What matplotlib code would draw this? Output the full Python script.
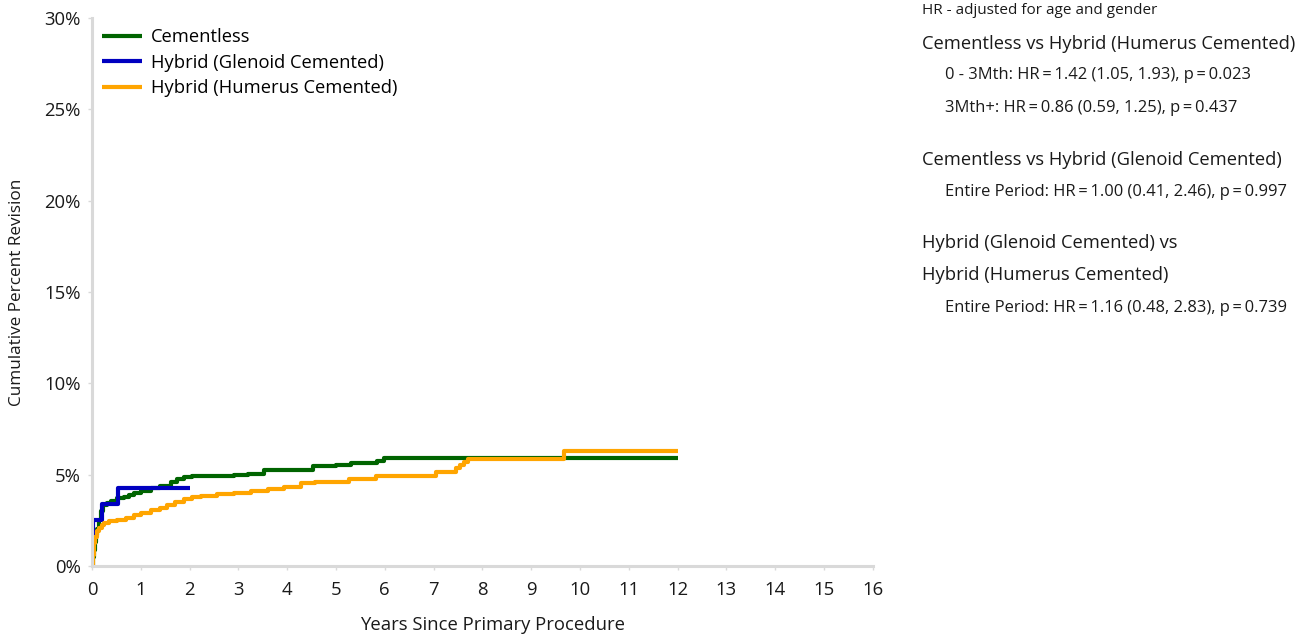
import matplotlib
matplotlib.use("Agg")
import matplotlib.pyplot as plt
from matplotlib.ticker import FuncFormatter

plt.rcParams['font.family'] = ['Open Sans', 'DejaVu Sans']

# Cementless
cl_t = [0, 0.02, 0.04, 0.06, 0.08, 0.11, 0.14, 0.18, 0.22, 0.3, 0.4, 0.52, 0.65, 0.75, 0.86, 1.0, 1.2, 1.4,
        1.61, 1.75, 1.89, 2.05, 2.23, 2.6, 2.91, 3.2, 3.53, 4.0, 4.52, 5.0, 5.3, 5.85, 5.99, 12.0]
cl_v = [0, 0.5, 0.9, 1.3, 1.7, 2.0, 2.5, 3.0, 3.35, 3.45, 3.55, 3.7, 3.8, 3.9, 4.0, 4.1, 4.25, 4.4,
        4.6, 4.75, 4.85, 4.9, 4.93, 4.95, 4.98, 5.05, 5.25, 5.28, 5.5, 5.52, 5.62, 5.75, 5.9, 5.9]

# Hybrid (Glenoid Cemented)
gl_t = [0, 0.01, 0.02, 0.03, 0.21, 0.54, 2.0]
gl_v = [0, 0.6, 1.4, 2.5, 3.4, 4.25, 4.25]

# Hybrid (Humerus Cemented)
hu_t = [0, 0.02, 0.04, 0.07, 0.1, 0.14, 0.2, 0.25, 0.35, 0.52, 0.7, 0.86, 1.0, 1.2, 1.4, 1.54, 1.7, 1.89,
        2.05, 2.23, 2.57, 2.91, 3.25, 3.6, 3.94, 4.28, 4.56, 5.27, 5.82, 7.05, 7.46, 7.55, 7.62, 7.7, 9.68, 12.0]
hu_v = [0, 0.6, 1.26, 1.6, 1.9, 2.08, 2.25, 2.35, 2.45, 2.52, 2.65, 2.79, 2.9, 3.06, 3.2, 3.34, 3.5, 3.65,
        3.75, 3.83, 3.92, 3.98, 4.1, 4.2, 4.34, 4.52, 4.6, 4.74, 4.93, 5.13, 5.35, 5.55, 5.7, 5.84, 6.32, 6.32]

series = [("Cementless", cl_t, cl_v, "#006400"),
          ("Hybrid (Glenoid Cemented)", gl_t, gl_v, "#0000c0"),
          ("Hybrid (Humerus Cemented)", hu_t, hu_v, "#ffa500")]

x_ticks = list(range(0, 17))
y_ticks = [0, 5, 10, 15, 20, 25, 30]

fig = plt.figure(figsize=(13.08, 6.35), dpi=100)
ax = fig.add_axes([0.0703, 0.1087, 0.597, 0.863])
for name, t, v, c in series:
    ax.plot(t, v, drawstyle='steps-post', color=c, lw=3, label=name, solid_capstyle='butt')

ax.set_xlim(0, 16)
ax.set_ylim(0, 30)
ax.set_xticks(x_ticks)
ax.set_yticks(y_ticks)
ax.yaxis.set_major_formatter(FuncFormatter(lambda v, p: f"{int(v)}%"))
for s in ['top', 'right']:
    ax.spines[s].set_visible(False)
for s in ['left', 'bottom']:
    ax.spines[s].set_color('#d9d9d9')
    ax.spines[s].set_linewidth(2.2)
ax.tick_params(axis='both', colors='#d9d9d9', labelcolor='#1a1a1a', labelsize=13.3, length=3, width=1)
ax.tick_params(axis='x', pad=8)
ax.tick_params(axis='y', pad=5)
ax.set_xlabel("Years Since Primary Procedure", fontsize=13.3, color='#1a1a1a', labelpad=12)
ax.xaxis.label.set_x(0.513)
ax.set_ylabel("Cumulative Percent Revision", fontsize=12.3, color='#1a1a1a', labelpad=14)

ax.legend(loc='upper left', bbox_to_anchor=(-0.0064, 1.008), frameon=False, fontsize=13.2,
          handlelength=2.2, handletextpad=0.5, labelspacing=0.4, borderaxespad=0.4)

fx = 922 / 1308
fig.text(fx, 1 - 11 / 635, "HR - adjusted for age and gender", fontsize=11, va='center', color='#1a1a1a')
fig.text(fx, 1 - 44 / 635, "Cementless vs Hybrid (Humerus Cemented)", fontsize=13.2, va='center', color='#1a1a1a')
sx = 945 / 1308
sub = dict(fontsize=11.9, va='center', color='#1a1a1a')
fig.text(sx, 1 - 75 / 635, "0 - 3Mth: HR\u2009=\u20091.42 (1.05, 1.93), p\u2009=\u20090.023", **sub)
fig.text(sx, 1 - 108 / 635, "3Mth+: HR\u2009=\u20090.86 (0.59, 1.25), p\u2009=\u20090.437", **sub)
fig.text(fx, 1 - 160 / 635, "Cementless vs Hybrid (Glenoid Cemented)", fontsize=13.2, va='center', color='#1a1a1a')
fig.text(sx, 1 - 192 / 635, "Entire Period: HR\u2009=\u20091.00 (0.41, 2.46), p\u2009=\u20090.997", **sub)
fig.text(fx, 1 - 243 / 635, "Hybrid (Glenoid Cemented) vs", fontsize=13.2, va='center', color='#1a1a1a')
fig.text(fx, 1 - 275 / 635, "Hybrid (Humerus Cemented)", fontsize=13.2, va='center', color='#1a1a1a')
fig.text(sx, 1 - 308 / 635, "Entire Period: HR\u2009=\u20091.16 (0.48, 2.83), p\u2009=\u20090.739", **sub)

fig.savefig("out.png", dpi=100)
